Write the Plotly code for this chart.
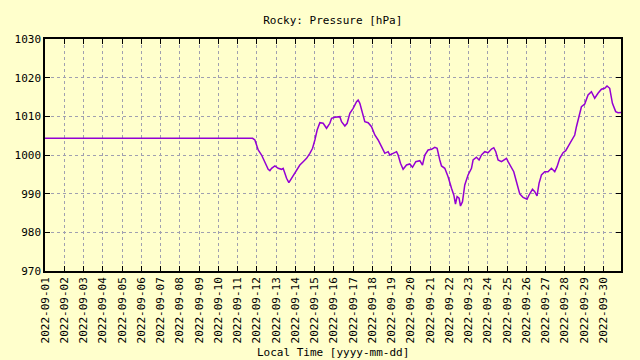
import plotly.graph_objects as go

times = [
    "2022-09-01 00:00", "2022-09-11 18:45", "2022-09-11 21:36", "2022-09-12 01:44",
    "2022-09-12 05:57", "2022-09-12 07:57", "2022-09-12 10:04", "2022-09-12 14:11",
    "2022-09-12 16:18", "2022-09-12 18:25", "2022-09-12 22:32", "2022-09-13 02:38",
    "2022-09-13 06:52", "2022-09-13 08:51", "2022-09-13 10:59", "2022-09-13 13:06",
    "2022-09-13 15:58", "2022-09-13 19:20", "2022-09-13 23:27", "2022-09-14 03:33",
    "2022-09-14 05:40", "2022-09-14 09:47", "2022-09-14 14:01", "2022-09-14 18:08",
    "2022-09-14 21:30", "2022-09-15 00:22", "2022-09-15 03:13", "2022-09-15 06:35",
    "2022-09-15 10:42", "2022-09-15 14:56", "2022-09-15 19:03", "2022-09-15 21:10",
    "2022-09-16 01:16", "2022-09-16 07:30", "2022-09-16 09:37", "2022-09-16 13:44",
    "2022-09-16 16:36", "2022-09-16 19:58", "2022-09-17 00:04", "2022-09-17 04:19",
    "2022-09-17 06:18", "2022-09-17 08:25", "2022-09-17 10:32", "2022-09-17 14:38",
    "2022-09-17 18:46", "2022-09-17 22:59", "2022-09-18 03:06", "2022-09-18 07:13",
    "2022-09-18 11:27", "2022-09-18 15:34", "2022-09-18 19:41", "2022-09-18 21:48",
    "2022-09-19 01:55", "2022-09-19 06:09", "2022-09-19 08:08", "2022-09-19 11:07",
    "2022-09-19 14:21", "2022-09-19 18:36", "2022-09-19 22:42", "2022-09-20 02:04",
    "2022-09-20 06:10", "2022-09-20 11:10", "2022-09-20 14:31", "2022-09-20 17:24",
    "2022-09-20 21:30", "2022-09-21 01:45", "2022-09-21 05:51", "2022-09-21 08:43",
    "2022-09-21 12:04", "2022-09-21 14:12", "2022-09-21 18:18", "2022-09-21 22:25",
    "2022-09-22 02:40", "2022-09-22 05:31", "2022-09-22 07:38", "2022-09-22 09:37",
    "2022-09-22 12:07", "2022-09-22 13:52", "2022-09-22 16:22", "2022-09-22 19:13",
    "2022-09-22 23:19", "2022-09-23 03:35", "2022-09-23 05:34", "2022-09-23 09:47",
    "2022-09-23 13:02", "2022-09-23 16:02", "2022-09-23 20:08", "2022-09-24 00:16",
    "2022-09-24 04:29", "2022-09-24 07:21", "2022-09-24 09:50", "2022-09-24 12:43",
    "2022-09-24 16:57", "2022-09-24 21:04", "2022-09-24 23:11", "2022-09-25 01:11",
    "2022-09-25 04:11", "2022-09-25 08:17", "2022-09-25 11:38", "2022-09-25 15:45",
    "2022-09-25 19:52", "2022-09-26 00:50", "2022-09-26 03:20", "2022-09-26 07:35",
    "2022-09-26 10:26", "2022-09-26 13:18", "2022-09-26 15:47", "2022-09-26 18:47",
    "2022-09-26 22:54", "2022-09-27 03:00", "2022-09-27 07:15", "2022-09-27 11:21",
    "2022-09-27 14:14", "2022-09-27 17:35", "2022-09-27 21:42", "2022-09-28 01:03",
    "2022-09-28 05:10", "2022-09-28 09:24", "2022-09-28 12:16", "2022-09-28 14:23",
    "2022-09-28 17:37", "2022-09-28 20:37", "2022-09-29 00:43", "2022-09-29 04:51",
    "2022-09-29 09:04", "2022-09-29 13:11", "2022-09-29 17:17", "2022-09-29 21:32",
    "2022-09-30 01:38", "2022-09-30 04:31", "2022-09-30 07:52", "2022-09-30 11:14",
    "2022-09-30 15:20", "2022-09-30 18:13", "2022-09-30 21:56",
]

pressure = [
    1004.32, 1004.32, 1003.88, 1001.30, 1000.00, 999.15, 997.86, 996.30,
    995.94, 996.56, 997.16, 996.56, 996.30, 996.56, 995.27, 993.98,
    992.84, 993.98, 995.27, 996.56, 997.42, 998.27, 999.15, 1000.44,
    1001.74, 1003.88, 1006.47, 1008.36, 1008.20, 1006.91, 1008.20, 1009.49,
    1009.75, 1009.91, 1008.61, 1007.50, 1008.20, 1010.79, 1012.08, 1013.79,
    1014.23, 1013.37, 1011.64, 1008.61, 1008.36, 1007.32, 1005.17, 1003.88,
    1002.15, 1000.44, 1000.86, 1000.00, 1000.44, 1000.86, 1000.00, 997.86,
    996.30, 997.42, 997.68, 996.82, 998.27, 998.53, 997.42, 1000.00,
    1001.30, 1001.48, 1001.99, 1001.74, 998.71, 997.16, 996.56, 994.39,
    991.39, 989.66, 987.33, 989.22, 988.81, 986.81, 987.93, 992.24,
    994.83, 996.56, 998.71, 999.41, 998.71, 1000.00, 1000.86, 1000.60,
    1001.55, 1001.89, 1000.86, 998.71, 998.27, 998.71, 999.15, 998.27,
    997.16, 995.68, 993.10, 989.92, 989.06, 988.55, 989.66, 991.13,
    990.51, 989.40, 992.68, 994.83, 995.68, 995.68, 996.56, 995.68,
    996.98, 999.15, 1000.60, 1001.11, 1002.59, 1004.32, 1005.17, 1007.32,
    1010.35, 1012.49, 1013.19, 1015.52, 1016.37, 1014.67, 1015.96, 1017.00,
    1017.25, 1017.85, 1017.25, 1013.37, 1011.22, 1010.94, 1011.00,
]

day_ticks = [f"2022-09-{d:02d}" for d in range(1, 31)]
y_ticks = [970, 980, 990, 1000, 1010, 1020, 1030]

BG = "#ffffcc"
FONT = "DejaVu Sans Mono"

fig = go.Figure()
fig.add_trace(go.Scatter(
    x=times, y=pressure, mode="lines",
    line=dict(color="#9400d3", width=1.5, shape="linear"),
    showlegend=False, hoverinfo="x+y",
))

axis_common = dict(
    showline=True, linecolor="black", linewidth=1.5, mirror="ticks",
    ticks="inside", ticklen=5, tickcolor="black", tickwidth=1,
    showgrid=True, gridcolor="#a0a0b0", gridwidth=1, griddash="3px,3px",
    zeroline=False, tickfont=dict(family=FONT, size=11, color="black"),
)

fig.update_layout(
    width=640, height=360,
    paper_bgcolor=BG, plot_bgcolor=BG,
    margin=dict(l=45, r=19, t=39, b=89),
    title=dict(text="Rocky: Pressure [hPa]", x=0.52, xanchor="center",
               y=1 - 20 / 360, yanchor="middle", yref="container",
               font=dict(family=FONT, size=11, color="black")),
    xaxis=dict(
        type="date", range=["2022-09-01 00:00", "2022-09-30 21:56"],
        tickmode="array", tickvals=day_ticks, ticktext=day_ticks,
        tickangle=-90, **axis_common,
    ),
    yaxis=dict(
        range=[970, 1030], tickmode="array", tickvals=y_ticks,
        ticktext=[str(v) for v in y_ticks], **axis_common,
    ),
    annotations=[dict(
        text="Local Time [yyyy-mm-dd]", xref="paper", yref="paper",
        x=0.5, y=0, yshift=-81, xanchor="center", yanchor="middle",
        showarrow=False, font=dict(family=FONT, size=11, color="black"),
    )],
)

fig.write_html(
    "out.html",
    config={"displayModeBar": False},
    post_script="document.body.style.margin='0';document.body.style.background='#ffffcc';",
)
